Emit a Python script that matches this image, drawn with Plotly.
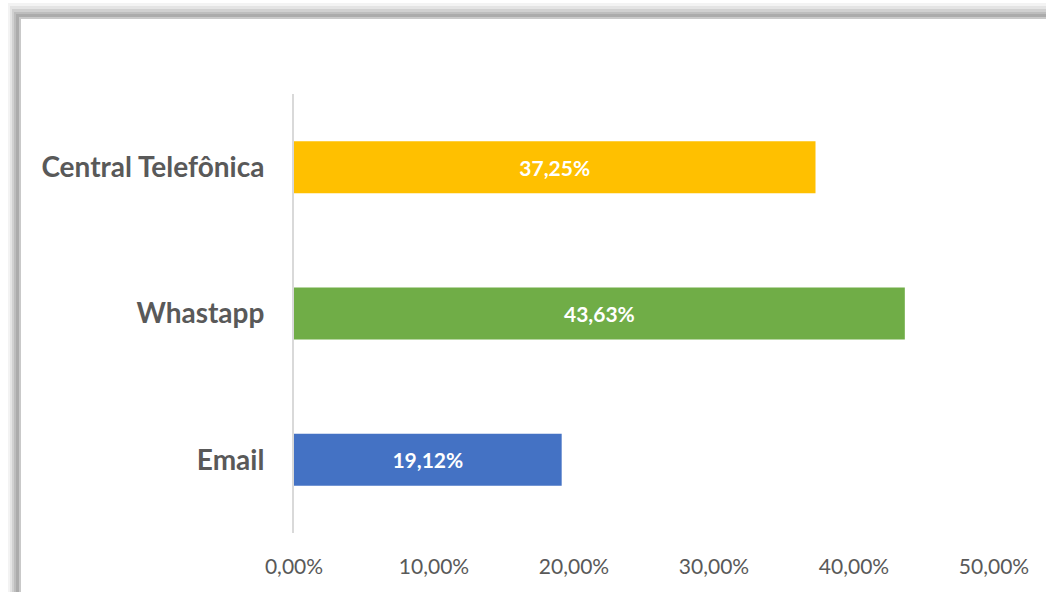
import plotly.graph_objects as go

categories = ["Email", "Whastapp", "Central Telefônica"]
values = [19.12, 43.63, 37.25]
colors = ["#4472C4", "#70AD47", "#FFC000"]
tick_vals = [0, 10, 20, 30, 40, 50]
tick_text = ["0,00%", "10,00%", "20,00%", "30,00%", "40,00%", "50,00%"]

labels = [f"{v:.2f}%".replace(".", ",") for v in values]

W, H = 1046, 592
L, R, T, B = 294, 994, 94, 533

def px(x):
    return (x - L) / (R - L)

def py(y):
    return (B - y) / (B - T)

fig = go.Figure()
fig.add_trace(go.Bar(
    y=categories, x=values, orientation="h",
    marker=dict(color=colors, line=dict(width=0)),
    text=labels, textposition="inside", insidetextanchor="middle",
    textfont=dict(family="Lato", size=21, color="white", weight="bold"),
    hoverinfo="skip",
))

# frame with shadow (pixel coordinates)
layers = [
    (8, 3, "#f3f3f3"), (10, 6, "#e4e4e4"), (12, 9, "#d0d0d0"),
    (14, 12, "#bdbdbd"), (16, 14, "#ababab"), (19, 17, "#c9c9c9"),
    (21, 19, "#ffffff"),
]
shapes = []
for x0, y0, c in layers:
    shapes.append(dict(type="rect", xref="paper", yref="paper",
                       x0=px(x0), y0=py(800), x1=px(1300), y1=py(y0),
                       fillcolor=c, line=dict(width=0), layer="below"))

fig.update_layout(
    width=W, height=H,
    margin=dict(l=L, r=W - R, t=T, b=H - B, pad=0),
    paper_bgcolor="white", plot_bgcolor="rgba(0,0,0,0)",
    showlegend=False, bargap=0.645,
    shapes=shapes,
    xaxis=dict(range=[0, 50], tickvals=tick_vals, ticktext=tick_text,
               showgrid=False, zeroline=False, showline=False,
               ticks="", ticklabelstandoff=19,
               tickfont=dict(family="Lato", size=21, color="#595959"),
               fixedrange=True),
    yaxis=dict(showgrid=False, zeroline=False, showline=True,
               linecolor="#d9d9d9", linewidth=2, ticks="",
               ticklabelstandoff=22,
               tickfont=dict(family="Lato", size=28, color="#595959", weight="bold"),
               fixedrange=True),
)

fig.write_html("out.html", config={"displayModeBar": False},
               post_script="document.body.style.margin='0';document.body.style.overflow='hidden';")
